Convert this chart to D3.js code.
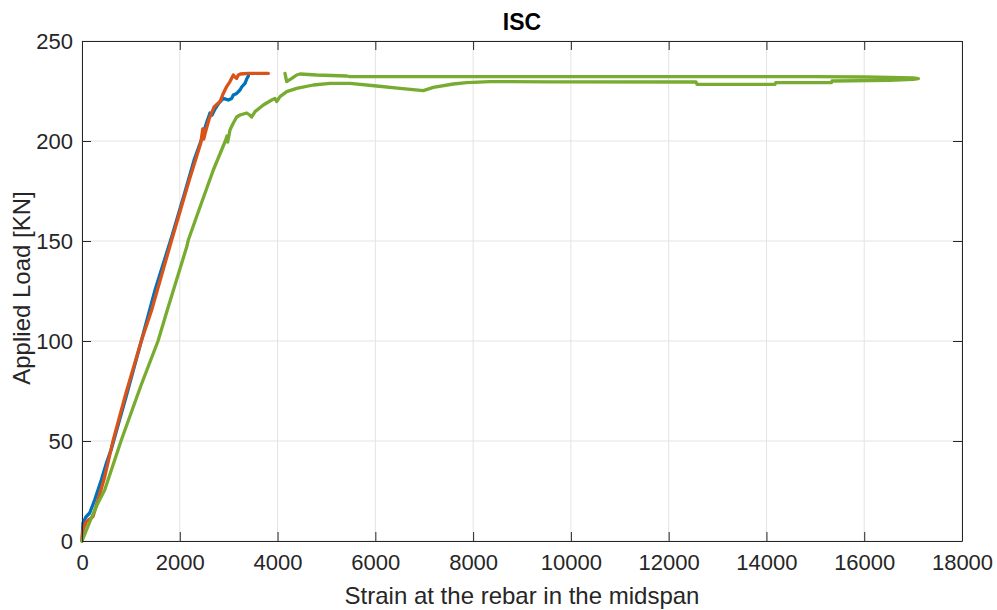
<!DOCTYPE html>
<html>
<head>
<meta charset="utf-8">
<script src="https://cdn.jsdelivr.net/npm/d3@7"></script>
<style>
  html, body { margin: 0; padding: 0; background: #ffffff; }
  svg { display: block; font-family: "Liberation Sans", Arial, Helvetica, sans-serif; }
</style>
</head>
<body>
<svg id="chart" width="997" height="610"></svg>
<script>
// Load vs. rebar strain at midspan, three ISC specimens
const xTicks = [0, 2000, 4000, 6000, 8000, 10000, 12000, 14000, 16000, 18000];
const yTicks = [0, 50, 100, 150, 200, 250];

// [strain, load kN]
const seriesBlue = [
  [0,0],[10,5],[20,9],[80,12],[157,14],[259,20.5],[395,30.5],[500,39],[600,46],
  [900,72],[1213,100],[1500,126],[1834,152],[2100,174],[2300,191],[2448,201],
  [2520,207],[2560,210],[2618,214],[2660,213],[2720,216],[2800,219],[2890,221.3],
  [2993,220.5],[3062,221.3],[3095,223],[3164,223.8],[3232,225.5],[3266,227],
  [3334,228.8],[3369,231],[3403,232.5]
];
const seriesOrange = [
  [0,0],[20,5.5],[89,9.7],[225,12.2],[327,20.5],[464,32],[634,50],[900,74],
  [1213,100],[1425,115.5],[1834,150.5],[2200,181],[2430,199],[2470,206],[2490,201],
  [2520,204],[2600,211],[2700,217],[2823,219.7],[2890,223.8],[2959,227.2],[3027,229.7],
  [3095,233],[3130,232],[3164,231.3],[3198,233],[3240,233.5],[3400,233.8],[3811,233.8]
];
const seriesGreen = [
  [0,0],[100,6],[200,12],[327,19],[464,25.5],[805,50.5],[1210,78],[1555,100],
  [1745,115.5],[2141,147],[2175,150.5],[2414,167],[2686,185.5],[2940,200.5],
  [2965,202.5],[2980,199.5],[3027,205.5],[3095,209],[3164,212],[3232,213],[3369,214],
  [3430,213],[3471,212],[3539,214.7],[3709,218],[3880,220.5],[3948,221.3],[3982,219.7],
  [4050,222.2],[4187,224.7],[4391,226.3],[4732,228],[5073,228.8],[5482,228.8],
  [6027,227.5],[6505,226.3],[6981,225.2],[7186,226.8],[7595,228.5],[7868,229.2],
  [8345,229.7],[9573,229.6],[12560,229.5],[12580,228.3],[14175,228.3],[14190,229.2],
  [15330,229.2],[15340,230],[16500,230.3],[17000,230.8],[17107,231.2],
  [17000,231.6],[16016,232],[15000,232.2],[9573,232.2],[5482,232.2],[5414,232.5],
  [4800,233],[4459,233.5],[4391,233],[4291,231.3],[4187,229.7],[4152,233.8]
];

const series = [
  { data: seriesBlue,   color: "#0072BD" },
  { data: seriesOrange, color: "#D95319" },
  { data: seriesGreen,  color: "#77AC30" }
];

const svg = d3.select("#chart");
const plotLeft = 82, plotRight = 962, plotTop = 41, plotBottom = 541;

const x = d3.scaleLinear().domain([0, 18000]).range([plotLeft, plotRight]);
const y = d3.scaleLinear().domain([0, 250]).range([plotBottom, plotTop]);

const axisColor = "#262626";
const gridColor = "#e3e3e3";
const tickLen = 9;

// grid
const grid = svg.append("g");
grid.selectAll(".gx").data(xTicks).join("line")
  .attr("x1", d => x(d)).attr("x2", d => x(d))
  .attr("y1", plotTop).attr("y2", plotBottom)
  .attr("stroke", gridColor).attr("stroke-width", 1);
grid.selectAll(".gy").data(yTicks).join("line")
  .attr("x1", plotLeft).attr("x2", plotRight)
  .attr("y1", d => y(d)).attr("y2", d => y(d))
  .attr("stroke", gridColor).attr("stroke-width", 1);

// curves
const line = d3.line().x(d => x(d[0])).y(d => y(d[1]));
svg.append("g").selectAll("path").data(series).join("path")
  .attr("d", d => line(d.data))
  .attr("fill", "none")
  .attr("stroke", d => d.color)
  .attr("stroke-width", 3.3)
  .attr("stroke-linejoin", "round")
  .attr("stroke-linecap", "round");

// axes (ticks pointing inward, box on)
const fmt = d3.format("d");
const axB = d3.axisBottom(x).tickValues(xTicks).tickFormat(fmt).tickSizeInner(-tickLen).tickSizeOuter(0).tickPadding(13);
const axT = d3.axisTop(x).tickValues(xTicks).tickFormat("").tickSizeInner(-tickLen).tickSizeOuter(0);
const axL = d3.axisLeft(y).tickValues(yTicks).tickFormat(fmt).tickSizeInner(-tickLen).tickSizeOuter(0).tickPadding(9);
const axR = d3.axisRight(y).tickValues(yTicks).tickFormat("").tickSizeInner(-tickLen).tickSizeOuter(0);

function style(g) {
  g.selectAll(".domain").attr("stroke", axisColor).attr("stroke-width", 1);
  g.selectAll(".tick line").attr("stroke", axisColor).attr("stroke-width", 1);
  g.selectAll(".tick text").attr("fill", axisColor).style("font-size", "22px");
}
svg.append("g").attr("transform", `translate(0,${plotBottom})`).call(axB).call(style);
svg.append("g").attr("transform", `translate(0,${plotTop})`).call(axT).call(style);
svg.append("g").attr("transform", `translate(${plotLeft},0)`).call(axL).call(style);
svg.append("g").attr("transform", `translate(${plotRight},0)`).call(axR).call(style);

// labels
svg.append("text")
  .attr("x", (plotLeft + plotRight) / 2).attr("y", 30)
  .attr("text-anchor", "middle")
  .attr("font-weight", "bold").attr("font-size", 23).attr("fill", "#000")
  .text("ISC");
svg.append("text")
  .attr("x", (plotLeft + plotRight) / 2).attr("y", 604)
  .attr("text-anchor", "middle")
  .attr("font-size", 24).attr("fill", axisColor)
  .text("Strain at the rebar in the midspan");
svg.append("text")
  .attr("transform", `translate(30,${(plotTop + plotBottom) / 2 - 3}) rotate(-90)`)
  .attr("text-anchor", "middle")
  .attr("font-size", 24).attr("fill", axisColor)
  .text("Applied Load [KN]");
</script>
</body>
</html>
